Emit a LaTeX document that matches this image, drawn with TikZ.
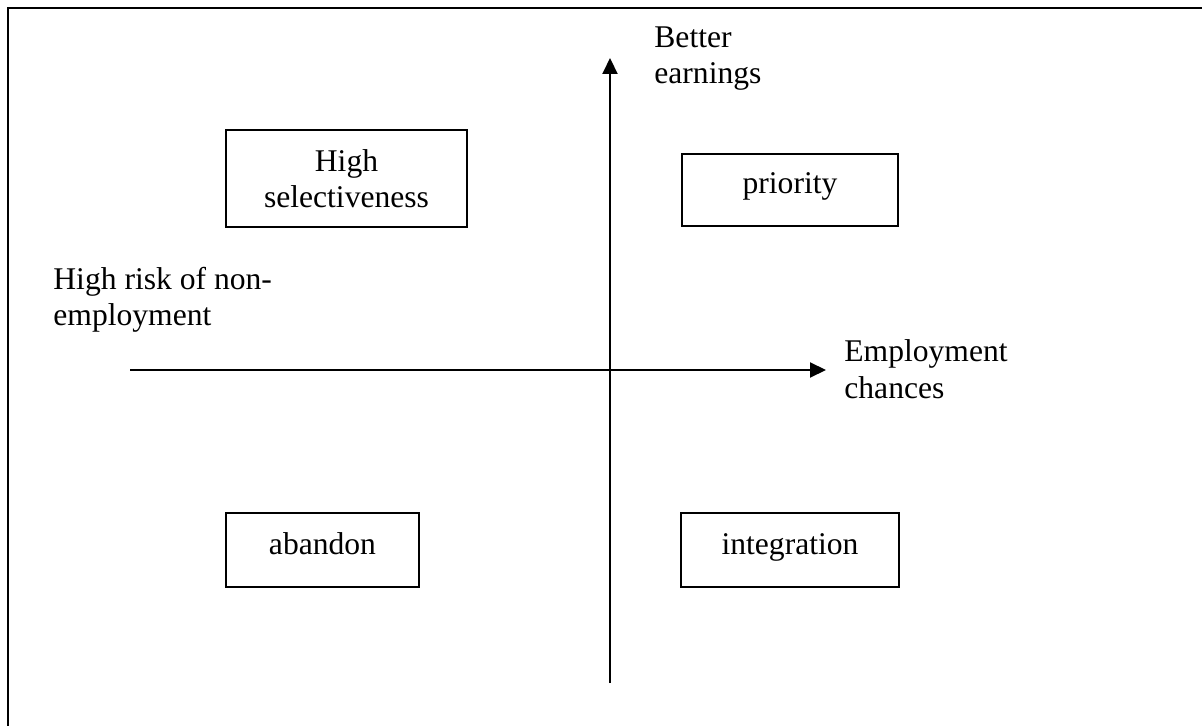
\documentclass[tikz,border=0pt]{standalone}
\usepackage{fontspec}
\setmainfont{Liberation Serif}
\usetikzlibrary{arrows.meta}
\begin{document}
\begin{tikzpicture}[x=0.5pt,y=-0.5pt,
  txt/.style={font=\fontsize{15.8}{18}\selectfont, inner sep=0pt},
  quad/.style={txt, draw, line width=1pt, minimum width=#1, minimum height=37pt},
  onebox/.style={quad=#1, text height=11pt, text depth=7pt},
  axis/.style={line width=1pt, -{Triangle[length=8pt,width=7.5pt]}},
  freetext/.style={txt, anchor=base west}]
\useasboundingbox (0,0) rectangle (1202,726);
\clip (0,0) rectangle (1202,726);
\draw[line width=1.1pt] (8,8) rectangle (1240,760);

\coordinate (xs) at (130,370);
\coordinate (xe) at (826,370);
\coordinate (ys) at (610,683);
\coordinate (ye) at (610,58);
\draw[axis] (xs) -- (xe);
\draw[axis] (ys) -- (ye);

\node[quad=120.5pt, minimum height=48.5pt, align=center] (hs) at (346.5,178.5) {High\\selectiveness};
\node[onebox=108pt, minimum height=36pt] (pr) at (790,190) {priority};
\node[onebox=96.5pt] (ab) at (322.5,550) {abandon};
\node[onebox=109pt] (in) at (790,550) {integration};

\node[freetext] (be) at (654,48) {\begin{tabular}[t]{@{}l@{}}Better\\earnings\end{tabular}};
\node[freetext] (hr) at (53,290) {\begin{tabular}[t]{@{}l@{}}High risk of non-\\employment\end{tabular}};
\node[freetext] (ec) at (844,362) {\begin{tabular}[t]{@{}l@{}}Employment\\chances\end{tabular}};
\end{tikzpicture}
\end{document}
